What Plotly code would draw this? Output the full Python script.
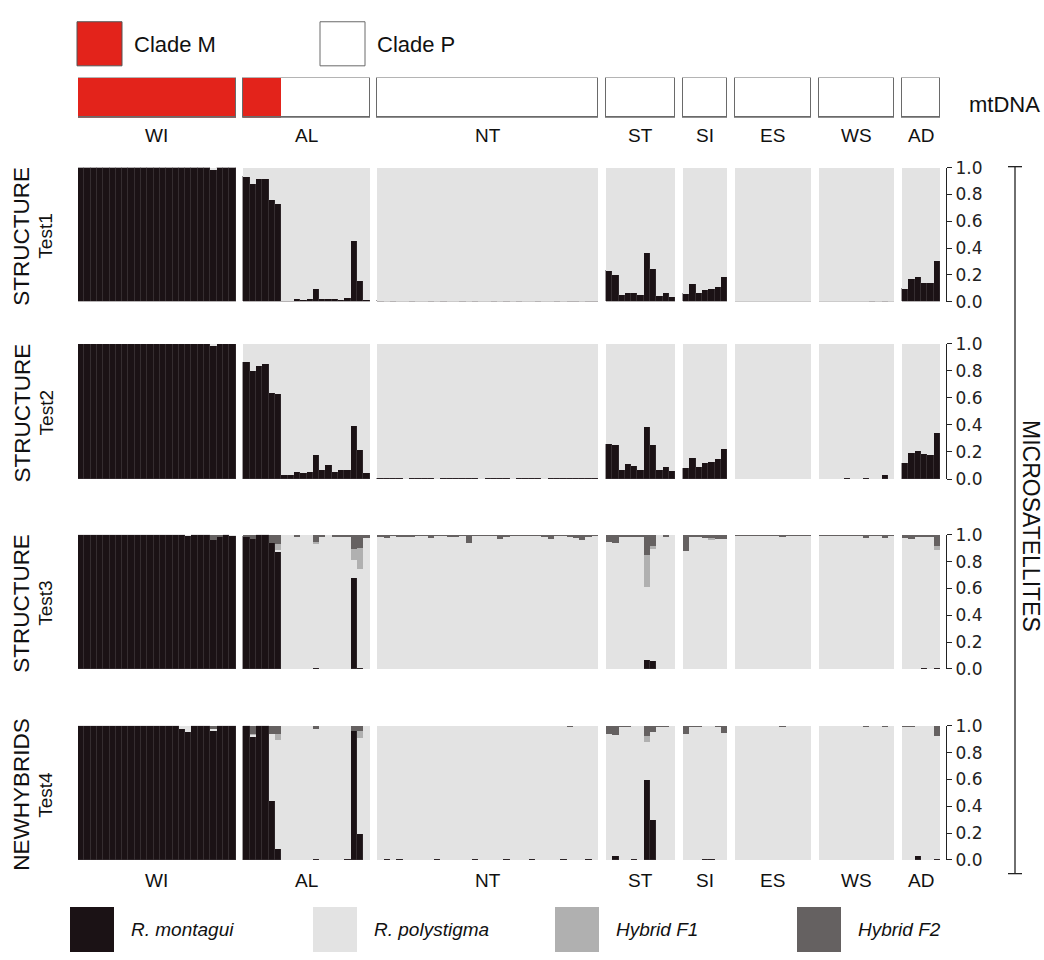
import plotly.graph_objects as go

W, H = 1044, 960

# ---------------- data ----------------
POPS = ["WI", "AL", "NT", "ST", "SI", "ES", "WS", "AD"]
N_IND = [25, 20, 35, 11, 7, 12, 12, 6]
CLADE_M = [25, 6, 0, 0, 0, 0, 0, 0]          # individuals with mtDNA clade M
PANEL_TITLES = [("STRUCTURE", "Test1"), ("STRUCTURE", "Test2"),
                ("STRUCTURE", "Test3"), ("NEWHYBRIDS", "Test4")]
TICK_VALS = [0.0, 0.2, 0.4, 0.6, 0.8, 1.0]
TICK_TEXT = ["0.0", "0.2", "0.4", "0.6", "0.8", "1.0"]
LEGEND_NAMES = ["R. montagui", "R. polystigma", "Hybrid F1", "Hybrid F2"]

# Test1 : R. montagui ancestry (rest is R. polystigma)
T1_MONT = (
    [1, 1, 1, 1, 1, 1, 1, 1, 1, 1, 1, 1, 1, 1, 1, 1, 1, 1, 1, 1, 1, 0.988, 1, 1, 1] +
    [0.93, 0.88, 0.92, 0.92, 0.76, 0.73, 0.008, 0.012, 0.02, 0.017, 0.022, 0.10, 0.027, 0.024,
     0.02, 0.015, 0.03, 0.455, 0.157, 0.017] +
    [0.005, 0.004, 0.005, 0.003, 0.004, 0.005, 0.004, 0.003, 0.006, 0.004, 0.005, 0.004, 0.003,
     0.005, 0.004, 0.006, 0.004, 0.003, 0.005, 0.004, 0.005, 0.004, 0.006, 0.003, 0.004, 0.005,
     0.004, 0.003, 0.005, 0.004, 0.006, 0.005, 0.004, 0.008, 0.005] +
    [0.23, 0.20, 0.05, 0.07, 0.07, 0.05, 0.37, 0.25, 0.045, 0.065, 0.04] +
    [0.06, 0.135, 0.065, 0.09, 0.10, 0.11, 0.19] +
    [0.004, 0.003, 0.004, 0.004, 0.003, 0.004, 0.004, 0.003, 0.004, 0.004, 0.003, 0.004] +
    [0.003, 0.004, 0.003, 0.004, 0.003, 0.004, 0.004, 0.003, 0.005, 0.004, 0.012, 0.004] +
    [0.095, 0.17, 0.185, 0.145, 0.145, 0.305]
)

# Test2 : R. montagui ancestry
T2_MONT = (
    [1, 1, 1, 1, 1, 1, 1, 1, 1, 1, 1, 1, 1, 1, 1, 1, 1, 1, 1, 1, 1, 0.99, 1, 1, 1] +
    [0.87, 0.80, 0.84, 0.85, 0.64, 0.63, 0.033, 0.033, 0.055, 0.043, 0.055, 0.176, 0.069, 0.102,
     0.052, 0.069, 0.071, 0.39, 0.219, 0.048] +
    [0.006, 0.005, 0.006, 0.005, 0.004, 0.006, 0.005, 0.006, 0.005, 0.004, 0.006, 0.005, 0.01,
     0.005, 0.006, 0.005, 0.004, 0.006, 0.005, 0.006, 0.005, 0.004, 0.006, 0.005, 0.006, 0.005,
     0.004, 0.006, 0.005, 0.006, 0.005, 0.01, 0.006, 0.005, 0.006] +
    [0.26, 0.255, 0.07, 0.11, 0.10, 0.07, 0.385, 0.25, 0.065, 0.09, 0.06] +
    [0.08, 0.16, 0.09, 0.12, 0.13, 0.15, 0.22] +
    [0.004, 0.004, 0.003, 0.004, 0.004, 0.003, 0.004, 0.004, 0.003, 0.004, 0.004, 0.004] +
    [0.004, 0.004, 0.004, 0.004, 0.005, 0.004, 0.004, 0.005, 0.004, 0.004, 0.03, 0.004] +
    [0.12, 0.195, 0.205, 0.185, 0.18, 0.34]
)

# Test3 : R. montagui / Hybrid F1 / Hybrid F2
T3_MONT = (
    [1, 1, 1, 1, 1, 1, 1, 1, 1, 1, 1, 1, 1, 1, 1, 1, 1, 0.995, 1, 1, 1, 0.96, 0.99, 1, 0.995] +
    [0.99, 0.97, 1, 1, 0.94, 0.87, 0, 0, 0, 0, 0, 0.005, 0, 0, 0, 0, 0, 0.68, 0.005, 0] +
    [0, 0, 0, 0, 0, 0, 0, 0, 0, 0, 0, 0, 0, 0, 0, 0, 0, 0, 0, 0, 0, 0, 0, 0, 0, 0, 0, 0, 0, 0,
     0, 0, 0, 0, 0] +
    [0, 0, 0, 0, 0, 0, 0.068, 0.061, 0, 0, 0] +
    [0, 0, 0, 0, 0, 0, 0] +
    [0, 0, 0, 0, 0, 0, 0, 0, 0, 0, 0, 0] +
    [0, 0, 0, 0, 0, 0, 0, 0, 0, 0, 0, 0] +
    [0, 0, 0, 0.005, 0, 0.005]
)
T3_F1 = (
    [0, 0, 0, 0, 0, 0, 0, 0, 0, 0, 0, 0, 0, 0, 0, 0, 0, 0, 0, 0, 0, 0, 0, 0, 0] +
    [0, 0, 0, 0, 0, 0.04, 0, 0, 0, 0, 0, 0.01, 0, 0, 0, 0, 0, 0.085, 0.15, 0] +
    [0, 0, 0, 0, 0, 0, 0, 0, 0, 0, 0, 0, 0, 0, 0, 0, 0, 0, 0, 0, 0, 0, 0, 0, 0, 0, 0, 0, 0, 0,
     0, 0, 0, 0, 0] +
    [0, 0, 0, 0, 0, 0, 0.238, 0.025, 0, 0, 0] +
    [0, 0, 0, 0, 0.015, 0, 0] +
    [0, 0, 0, 0, 0, 0, 0, 0, 0, 0, 0, 0] +
    [0, 0, 0, 0, 0, 0, 0, 0, 0, 0, 0, 0] +
    [0, 0, 0, 0, 0, 0.035]
)
T3_F2 = (
    [0, 0, 0, 0, 0, 0, 0, 0, 0, 0, 0, 0, 0, 0, 0, 0, 0, 0, 0, 0, 0, 0.04, 0.01, 0, 0] +
    [0.01, 0.03, 0, 0, 0.06, 0.07, 0, 0, 0.015, 0, 0, 0.05, 0.01, 0, 0.01, 0.01, 0.015, 0.105,
     0.10, 0.02] +
    [0.015, 0.02, 0.005, 0.015, 0.008, 0.008, 0.005, 0.005, 0.02, 0.005, 0.005, 0.015, 0.01,
     0.005, 0.06, 0.005, 0.005, 0.005, 0.005, 0.03, 0.01, 0.005, 0.005, 0.005, 0.005, 0.005,
     0.01, 0.03, 0.005, 0.005, 0.015, 0.02, 0.035, 0.01, 0.005] +
    [0.05, 0.06, 0.01, 0.01, 0.01, 0.01, 0.146, 0.08, 0, 0.01, 0] +
    [0.117, 0.015, 0.01, 0.02, 0.025, 0.03, 0.03] +
    [0.005, 0.005, 0.005, 0.005, 0.005, 0.005, 0.005, 0.015, 0.005, 0.005, 0.005, 0.005] +
    [0.005, 0.005, 0.005, 0.005, 0.005, 0.005, 0.005, 0.02, 0.005, 0.005, 0.02, 0.005] +
    [0.02, 0.03, 0.015, 0.01, 0.01, 0.08]
)

# Test4 : R. montagui / Hybrid F1 / Hybrid F2
T4_MONT = (
    [1, 1, 1, 1, 1, 1, 1, 1, 1, 1, 1, 1, 1, 1, 1, 1, 0.98, 0.955, 1, 1, 1, 0.97, 1, 1, 1] +
    [1, 0.925, 1, 1, 0.44, 0.08, 0, 0, 0, 0, 0, 0.01, 0, 0, 0, 0, 0.005, 0.96, 0.196, 0] +
    [0, 0.006, 0, 0.006, 0, 0, 0, 0, 0, 0.006, 0, 0, 0, 0, 0, 0.006, 0, 0, 0, 0, 0.006, 0, 0,
     0, 0.006, 0, 0, 0, 0, 0.006, 0, 0, 0, 0.006, 0] +
    [0, 0.03, 0, 0, 0.005, 0, 0.598, 0.298, 0, 0, 0] +
    [0, 0, 0, 0.007, 0.005, 0, 0] +
    [0, 0, 0, 0, 0, 0, 0, 0, 0, 0, 0, 0] +
    [0, 0, 0, 0, 0, 0, 0, 0, 0, 0, 0, 0] +
    [0, 0, 0.03, 0, 0, 0.012]
)
T4_F1 = (
    [0, 0, 0, 0, 0, 0, 0, 0, 0, 0, 0, 0, 0, 0, 0, 0, 0, 0, 0, 0, 0, 0, 0, 0, 0] +
    [0, 0.01, 0, 0, 0, 0.05, 0, 0, 0, 0, 0, 0, 0, 0, 0, 0, 0, 0, 0.05, 0] +
    [0, 0, 0, 0, 0, 0, 0, 0, 0, 0, 0, 0, 0, 0, 0, 0, 0, 0, 0, 0, 0, 0, 0, 0, 0, 0, 0, 0, 0, 0,
     0, 0, 0, 0, 0] +
    [0, 0, 0, 0, 0, 0, 0.04, 0, 0, 0, 0] +
    [0, 0, 0, 0, 0, 0, 0] +
    [0, 0, 0, 0, 0, 0, 0, 0, 0, 0, 0, 0] +
    [0, 0, 0, 0, 0, 0, 0, 0, 0, 0, 0, 0] +
    [0, 0, 0, 0, 0, 0]
)
T4_F2 = (
    [0, 0, 0, 0, 0, 0, 0, 0, 0, 0, 0, 0, 0, 0, 0, 0, 0, 0, 0, 0, 0, 0.02, 0, 0, 0] +
    [0, 0.056, 0, 0, 0.056, 0.056, 0, 0, 0, 0, 0, 0.02, 0, 0, 0, 0, 0, 0.04, 0.04, 0] +
    [0, 0, 0, 0, 0, 0, 0, 0, 0, 0, 0, 0, 0, 0, 0, 0, 0, 0, 0, 0, 0, 0, 0, 0, 0, 0, 0, 0, 0, 0,
     0.005, 0, 0, 0, 0] +
    [0.06, 0.065, 0.005, 0.005, 0, 0, 0.078, 0.044, 0.005, 0.005, 0] +
    [0.06, 0.005, 0.005, 0, 0, 0.005, 0.053] +
    [0, 0, 0, 0, 0, 0, 0, 0.005, 0, 0, 0, 0] +
    [0, 0, 0, 0, 0, 0, 0, 0.006, 0, 0, 0.006, 0] +
    [0.005, 0.005, 0, 0, 0, 0.077]
)

ZEROS = [0] * sum(N_IND)
TESTS = [
    (T1_MONT, ZEROS, ZEROS),
    (T2_MONT, ZEROS, ZEROS),
    (T3_MONT, T3_F1, T3_F2),
    (T4_MONT, T4_F1, T4_F2),
]

# ---------------- style ----------------
C_MONT = "#1b1215"
C_POLY = "#e3e3e3"
C_F1 = "#b0b0b0"
C_F2 = "#656161"
C_RED = "#e3231b"
FONT = "Liberation Sans, Arial, sans-serif"
GAP = 1.25   # gap between populations, in individual units

# x positions
x_centers, group_start = [], []
pos = 0.0
for n in N_IND:
    group_start.append(pos)
    for i in range(n):
        x_centers.append(pos + i + 0.5)
    pos += n + GAP
TOTAL = pos - GAP
group_center = [s + n / 2 for s, n in zip(group_start, N_IND)]


def py(px):
    return 1 - px / H


def pxx(px):
    return px / W


PANEL_PX = [(161, 298), (341, 479), (536, 673), (731, 868)]

fig = go.Figure()

for k, (mont, f1, f2) in enumerate(TESTS):
    yname = "y" if k == 0 else f"y{k + 1}"
    poly = [round(max(0.0, 1 - a - b - c), 4) for a, b, c in zip(mont, f1, f2)]
    for vals, col, lw, lc in [(mont, C_MONT, 0.5, "#3e3539"),
                               (poly, C_POLY, 0, C_POLY),
                               (f1, C_F1, 0, C_F1),
                               (f2, C_F2, 0, C_F2)]:
        fig.add_trace(go.Bar(x=x_centers, y=vals, width=1, xaxis="x", yaxis=yname,
                             marker=dict(color=col, line=dict(width=lw, color=lc)),
                             showlegend=False, hoverinfo="skip"))

# mtDNA row
mt_colors = []
for n, m in zip(N_IND, CLADE_M):
    mt_colors += [C_RED] * m + ["#ffffff"] * (n - m)
fig.add_trace(go.Bar(x=x_centers, y=[1] * len(x_centers), width=1, xaxis="x", yaxis="y5",
                     marker=dict(color=mt_colors, line=dict(width=0)),
                     showlegend=False, hoverinfo="skip"))
fig.add_trace(go.Bar(x=group_center, y=[1] * len(N_IND), width=N_IND, xaxis="x", yaxis="y6",
                     marker=dict(color="rgba(0,0,0,0)", line=dict(width=1.2, color="#6a6a6a")),
                     showlegend=False, hoverinfo="skip"))

layout = dict(
    width=W, height=H, autosize=False,
    margin=dict(l=0, r=0, t=0, b=0),
    paper_bgcolor="white", plot_bgcolor="white",
    barmode="stack", bargap=0,
    xaxis=dict(domain=[pxx(78), pxx(940)], range=[0, TOTAL], visible=False, fixedrange=True),
)
for k, (top, bot) in enumerate(PANEL_PX):
    key = "yaxis" if k == 0 else f"yaxis{k + 1}"
    layout[key] = dict(
        domain=[py(bot), py(top)], range=[0, 1], side="right", anchor="free",
        position=pxx(946), showline=True, linecolor="#222", linewidth=1.3,
        ticks="outside", ticklen=5, tickwidth=1.3, tickcolor="#222",
        tickvals=TICK_VALS, ticktext=TICK_TEXT, showgrid=False, zeroline=False,
        tickfont=dict(family="DejaVu Sans", size=17, color="#222"), fixedrange=True,
    )
layout["yaxis5"] = dict(domain=[py(110), py(69)], range=[0, 1], visible=False, anchor="x")
layout["yaxis6"] = dict(overlaying="y5", range=[0, 1], visible=False, anchor="x")
fig.update_layout(**layout)

ann = []
# population labels (below mtDNA row and below bottom panel)
for name, c in zip(POPS, group_center):
    for ypx in (128, 889):
        ann.append(dict(x=c, y=py(ypx), xref="x", yref="paper", text=name, showarrow=False,
                        xanchor="center", yanchor="middle",
                        font=dict(family=FONT, size=19, color="#111")))
# left titles
for (t1, t2), (top, bot) in zip(PANEL_TITLES, PANEL_PX):
    yc = py((top + bot) / 2 + 2)
    ann.append(dict(x=pxx(22), y=yc, xref="paper", yref="paper", text=t1, textangle=-90,
                    showarrow=False, xanchor="center", yanchor="middle",
                    font=dict(family=FONT, size=22.5, color="#111")))
    ann.append(dict(x=pxx(46), y=yc, xref="paper", yref="paper", text=t2, textangle=-90,
                    showarrow=False, xanchor="center", yanchor="middle",
                    font=dict(family=FONT, size=19, color="#111")))
# right labels
ann.append(dict(x=pxx(1031), y=py(527), xref="paper", yref="paper", text="MICROSATELLITES",
                textangle=90, showarrow=False, xanchor="center", yanchor="middle",
                font=dict(family=FONT, size=23, color="#111")))
ann.append(dict(x=pxx(1004), y=py(97), xref="paper", yref="paper", text="mtDNA",
                showarrow=False, xanchor="center", yanchor="middle",
                font=dict(family=FONT, size=22, color="#111")))
# top legend
ann.append(dict(x=pxx(132), y=py(35), xref="paper", yref="paper", text="Clade M",
                showarrow=False, xanchor="left", yanchor="middle",
                font=dict(family=FONT, size=22, color="#111")))
ann.append(dict(x=pxx(375), y=py(35), xref="paper", yref="paper", text="Clade P",
                showarrow=False, xanchor="left", yanchor="middle",
                font=dict(family=FONT, size=22, color="#111")))
# bottom legend
LEG_X = [70, 313, 555, 797]
LEG_COLS = [C_MONT, C_POLY, C_F1, C_F2]
for lx, name in zip(LEG_X, LEGEND_NAMES):
    ann.append(dict(x=pxx(lx + 59), y=py(939), xref="paper", yref="paper",
                    text=f"<i>{name}</i>", showarrow=False, xanchor="left", yanchor="middle",
                    font=dict(family=FONT, size=19, color="#111")))

shapes = [
    dict(type="rect", xref="paper", yref="paper", x0=pxx(77), x1=pxx(122), y0=py(57), y1=py(12),
         fillcolor=C_RED, line=dict(color="#555", width=1)),
    dict(type="rect", xref="paper", yref="paper", x0=pxx(320), x1=pxx(365), y0=py(57), y1=py(12),
         fillcolor="white", line=dict(color="#6a6a6a", width=1)),
    # MICROSATELLITES bracket
    dict(type="line", xref="paper", yref="paper", x0=pxx(1015), x1=pxx(1015), y0=py(882),
         y1=py(160), line=dict(color="#222", width=1.3)),
    dict(type="line", xref="paper", yref="paper", x0=pxx(1008), x1=pxx(1022), y0=py(160),
         y1=py(160), line=dict(color="#222", width=1.3)),
    dict(type="line", xref="paper", yref="paper", x0=pxx(1008), x1=pxx(1022), y0=py(882),
         y1=py(882), line=dict(color="#222", width=1.3)),
]
for lx, col in zip(LEG_X, LEG_COLS):
    shapes.append(dict(type="rect", xref="paper", yref="paper", x0=pxx(lx), x1=pxx(lx + 44),
                       y0=py(962), y1=py(916), fillcolor=col, line=dict(width=0)))

fig.update_layout(annotations=ann, shapes=shapes)
# remove the default page margin so the figure fills the 1044x960 window exactly
fig.write_html("out.html",
               config={"displayModeBar": False},
               post_script="document.body.style.margin='0';"
                           "document.documentElement.style.overflow='hidden';")
